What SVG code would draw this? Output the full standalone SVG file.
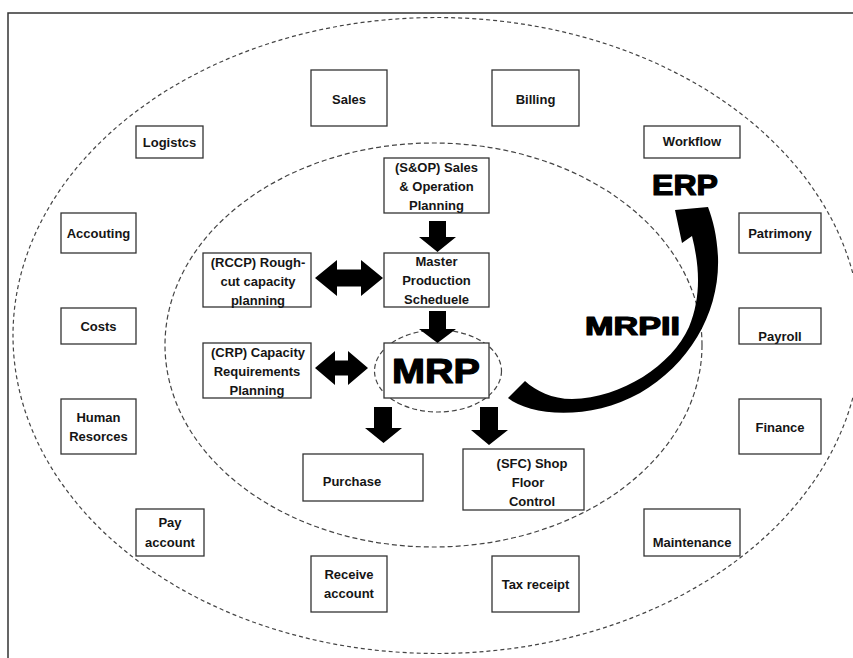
<svg xmlns="http://www.w3.org/2000/svg" width="853" height="658" viewBox="0 0 853 658">
<style>
.box{fill:#fff;stroke:#333;stroke-width:1.3}
.t{font-family:"Liberation Sans",Arial,sans-serif;font-size:13px;font-weight:bold;fill:#151515;text-anchor:middle}
.big{font-family:"Liberation Sans",Arial,sans-serif;font-weight:bold;fill:#000;stroke:#000;stroke-width:1.2;stroke-linejoin:round}
.ring{fill:none;stroke:#444;stroke-width:1.2}
.arr{fill:#000}
</style>
<rect width="853" height="658" fill="#fff"/>
<path d="M8,658 L8,13 L853,13" fill="none" stroke="#333" stroke-width="1.5"/>
<g id="rings">
<ellipse class="ring" cx="437" cy="335.5" rx="424" ry="318" stroke-dasharray="4 3"/>
<ellipse class="ring" cx="433.5" cy="345" rx="268.5" ry="202" stroke-dasharray="5 3"/>
<ellipse class="ring" cx="438" cy="371" rx="63.5" ry="41" stroke-dasharray="5 3"/>
</g>
<g id="outer-nodes">
<g id="sales"><rect class="box" x="311" y="70" width="76" height="56"/><text class="t" x="349" y="104">Sales</text></g>
<g id="billing"><rect class="box" x="492" y="70" width="87" height="56"/><text class="t" x="535.5" y="104">Billing</text></g>
<g id="logistcs"><rect class="box" x="136" y="126" width="67" height="32"/><text class="t" x="169.5" y="147">Logistcs</text></g>
<g id="workflow"><rect class="box" x="644" y="126" width="96" height="32"/><text class="t" x="692" y="146">Workflow</text></g>
<g id="accouting"><rect class="box" x="61" y="213" width="75" height="40"/><text class="t" x="98.5" y="238">Accouting</text></g>
<g id="patrimony"><rect class="box" x="739" y="213" width="82" height="40"/><text class="t" x="780" y="238">Patrimony</text></g>
<g id="costs"><rect class="box" x="61" y="308" width="75" height="36"/><text class="t" x="98.5" y="331">Costs</text></g>
<g id="payroll"><rect class="box" x="739" y="308" width="82" height="36"/><text class="t" x="780" y="341">Payroll</text></g>
<g id="human"><rect class="box" x="61" y="399" width="75" height="55"/><text class="t" x="98.5" y="422">Human</text><text class="t" x="98.5" y="441">Resorces</text></g>
<g id="finance"><rect class="box" x="739" y="399" width="82" height="55"/><text class="t" x="780" y="432">Finance</text></g>
<g id="payaccount"><rect class="box" x="136" y="509" width="68" height="47"/><text class="t" x="170" y="527">Pay</text><text class="t" x="170" y="547">account</text></g>
<g id="maintenance"><rect class="box" x="644" y="509" width="96" height="47"/><text class="t" x="692" y="547">Maintenance</text></g>
<g id="receive"><rect class="box" x="311" y="556" width="76" height="56"/><text class="t" x="349" y="579">Receive</text><text class="t" x="349" y="598">account</text></g>
<g id="tax"><rect class="box" x="492" y="556" width="87" height="56"/><text class="t" x="535.5" y="589">Tax receipt</text></g>
</g>
<g id="inner-nodes">
<g id="sop"><rect class="box" x="384" y="158" width="105" height="55"/><text class="t" x="436.5" y="172">(S&amp;OP) Sales</text><text class="t" x="436.5" y="191">&amp; Operation</text><text class="t" x="436.5" y="210">Planning</text></g>
<g id="mps"><rect class="box" x="384" y="253" width="105" height="54"/><text class="t" x="436.5" y="266">Master</text><text class="t" x="436.5" y="285">Production</text><text class="t" x="436.5" y="304">Scheduele</text></g>
<g id="rccp"><rect class="box" x="203" y="253" width="108" height="54"/><text class="t" x="258" y="267">(RCCP) Rough-</text><text class="t" x="258" y="286">cut capacity</text><text class="t" x="258" y="305">planning</text></g>
<g id="crp"><rect class="box" x="203" y="343" width="108" height="55"/><text class="t" x="258" y="357">(CRP) Capacity</text><text class="t" x="257" y="376">Requirements</text><text class="t" x="257" y="395">Planning</text></g>
<g id="mrp"><rect class="box" x="384" y="343" width="105" height="55"/><text class="big" x="392" y="383" font-size="35" textLength="88" lengthAdjust="spacingAndGlyphs">MRP</text></g>
<g id="purchase"><rect class="box" x="303" y="454" width="120" height="47"/><text class="t" x="352" y="486">Purchase</text></g>
<g id="sfc"><rect class="box" x="463" y="449" width="121" height="61"/><text class="t" x="532" y="468">(SFC) Shop</text><text class="t" x="528" y="487">Floor</text><text class="t" x="532" y="506">Control</text></g>
</g>
<g id="connectors">
<polygon class="arr" points="429,221 446,221 446,237 456,237 437.5,252 419,237 429,237"/>
<polygon class="arr" points="429,311 446,311 446,329 456,329 437.5,343 419,329 429,329"/>
<polygon class="arr" points="315,278 337,260 337,269.5 361,269.5 361,260 383,278 361,296 361,286.5 337,286.5 337,296"/>
<polygon class="arr" points="315,368 335,351 335,360.5 348,360.5 348,351 368,368 348,385 348,375.5 335,375.5 335,385"/>
<polygon class="arr" points="374,407 392,407 392,428 402,428 383.5,443 365,428 374,428"/>
<polygon class="arr" points="480,407 498,407 498,430 508,430 489,445 471,430 480,430"/>
<path class="arr" d="M508,398 C530,416 590,421 640,393 C690,364 720,312 718,257 C717,236 713,220 708,207 L675,210 L682,243 L692,236 C700,268 701,298 689,327 C672,365 622,398 572,399 C552,399 536,391 525,381 Z"/>
</g>
<g id="labels">
<text class="big" x="652" y="195" font-size="29" textLength="66" lengthAdjust="spacingAndGlyphs">ERP</text>
<text class="big" x="585" y="335" font-size="25" textLength="95" lengthAdjust="spacingAndGlyphs">MRPII</text>
</g>
</svg>
